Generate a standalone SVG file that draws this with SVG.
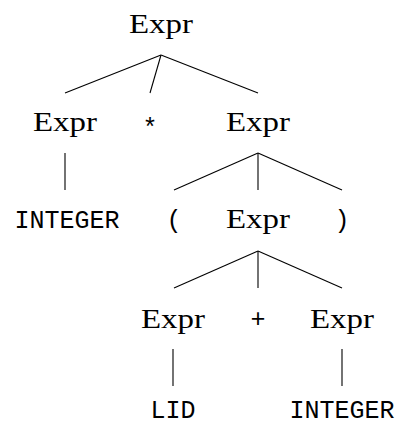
<svg xmlns="http://www.w3.org/2000/svg" width="401" height="426" viewBox="0 0 401 426">
  <style>
    .nt { font-family: "Liberation Serif", "DejaVu Serif", serif; font-size: 28px; fill: #000; text-anchor: middle; }
    .tt { font-family: "Liberation Mono", "DejaVu Sans Mono", monospace; font-size: 25px; fill: #000; text-anchor: middle; }
    .edge { stroke: #000; stroke-width: 1.1; fill: none; }
  </style>
  <rect width="401" height="426" fill="#fff"/>
  <g id="edges">
    <line class="edge" x1="161" y1="55" x2="65" y2="93"/>
    <line class="edge" x1="161" y1="55" x2="150" y2="93"/>
    <line class="edge" x1="161" y1="55" x2="258" y2="93"/>
    <line class="edge" x1="65" y1="153" x2="65" y2="190"/>
    <line class="edge" x1="258" y1="153" x2="174" y2="190"/>
    <line class="edge" x1="258" y1="153" x2="258" y2="190"/>
    <line class="edge" x1="258" y1="153" x2="342" y2="190"/>
    <line class="edge" x1="258" y1="251" x2="174" y2="288"/>
    <line class="edge" x1="258" y1="251" x2="258" y2="288"/>
    <line class="edge" x1="258" y1="251" x2="342" y2="288"/>
    <line class="edge" x1="173" y1="349" x2="173" y2="386"/>
    <line class="edge" x1="342" y1="349" x2="342" y2="386"/>
  </g>
  <g id="root"><text class="nt" x="161" y="33" textLength="64" lengthAdjust="spacingAndGlyphs">Expr</text></g>
  <g id="expr-left"><text class="nt" x="65" y="131" textLength="64" lengthAdjust="spacingAndGlyphs">Expr</text></g>
  <g id="times"><text class="tt" x="150" y="136">*</text></g>
  <g id="expr-right"><text class="nt" x="258" y="131" textLength="64" lengthAdjust="spacingAndGlyphs">Expr</text></g>
  <g id="integer-1"><text class="tt" x="67" y="228">INTEGER</text></g>
  <g id="lparen"><text class="tt" x="174" y="228">(</text></g>
  <g id="expr-inner"><text class="nt" x="258" y="228" textLength="64" lengthAdjust="spacingAndGlyphs">Expr</text></g>
  <g id="rparen"><text class="tt" x="342" y="228">)</text></g>
  <g id="expr-sum-left"><text class="nt" x="173" y="328" textLength="64" lengthAdjust="spacingAndGlyphs">Expr</text></g>
  <g id="plus"><text class="tt" x="258" y="327">+</text></g>
  <g id="expr-sum-right"><text class="nt" x="342" y="328" textLength="64" lengthAdjust="spacingAndGlyphs">Expr</text></g>
  <g id="lid"><text class="tt" x="173" y="418">LID</text></g>
  <g id="integer-2"><text class="tt" x="342" y="418">INTEGER</text></g>
</svg>
